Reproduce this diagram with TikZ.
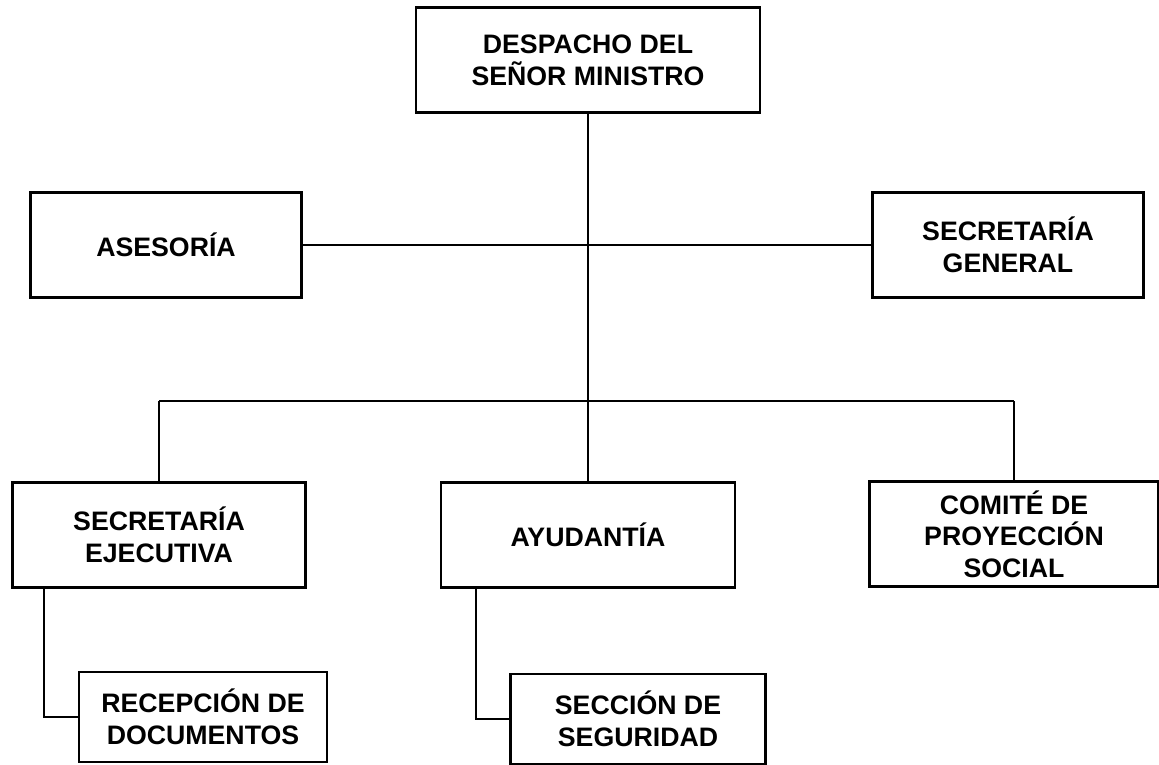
\documentclass[tikz,border=0pt]{standalone}
\usepackage{fontspec}
\setmainfont{Liberation Sans}

\begin{document}
\begin{tikzpicture}[x=0.02cm, y=-0.02cm,
    unit/.style={draw, line width=1.3pt, align=center, inner sep=0pt,
      font=\fontsize{15.2}{18}\selectfont\bfseries, minimum height=2.1cm},
    link/.style={line width=1.3pt}]
    \useasboundingbox (0,0) rectangle (1159,764);

    \node[unit, minimum width=6.88cm] (despacho) at (588,60) {DESPACHO DEL\\SEÑOR MINISTRO};
    \node[unit, minimum width=5.42cm] (asesoria) at (166,245) {ASESORÍA};
    \node[unit, minimum width=5.42cm] (secgen) at (1008,245) {SECRETARÍA\\GENERAL};
    \node[unit, minimum width=5.86cm] (secejec) at (159,535) {SECRETARÍA\\EJECUTIVA};
    \node[unit, minimum width=5.88cm] (ayudantia) at (588,535) {AYUDANTÍA};
    \node[unit, minimum width=5.78cm] (comite) at (1014,534) {COMITÉ DE\\PROYECCIÓN\\SOCIAL};
    \node[unit, minimum width=4.96cm, minimum height=1.8cm] (recepcion) at (203,717) {RECEPCIÓN DE\\DOCUMENTOS};
    \node[unit, minimum width=5.10cm, minimum height=1.8cm] (seccion) at (638,719) {SECCIÓN DE\\SEGURIDAD};

    \coordinate (bus) at (588,401);
    \draw[link] (despacho) -- (ayudantia);
    \draw[link] (asesoria) -- (secgen);
    \draw[link] (secejec.north |- bus) -- (comite.north |- bus);
    \foreach \n in {secejec, comite}
    \draw[link] (\n.north) -- (\n.north |- bus);

    \foreach \a/\b/\s in {secejec/recepcion/-2.3cm, ayudantia/seccion/-2.24cm}
    \draw[link] ([xshift=\s]\a.south) |- (\b.west);
\end{tikzpicture}
\end{document}
